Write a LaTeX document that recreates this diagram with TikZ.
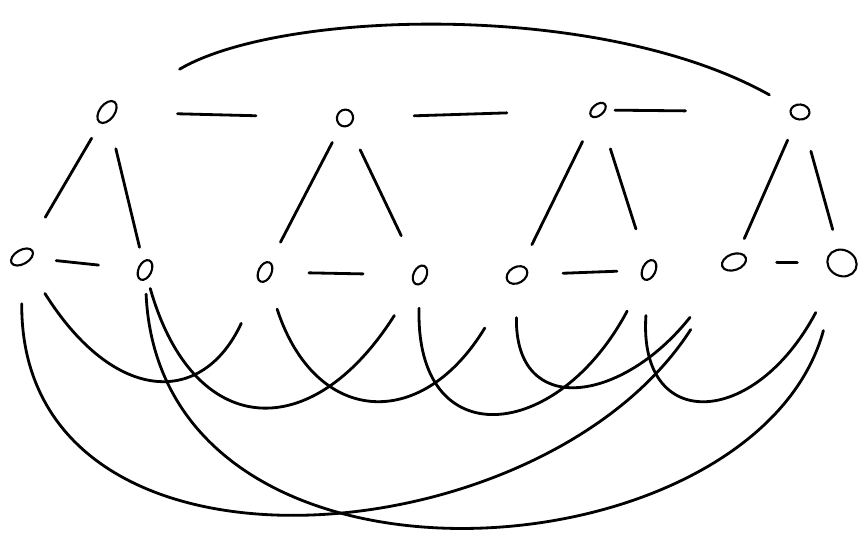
\documentclass[tikz,border=0pt]{standalone}
\usetikzlibrary{shapes.geometric}
\begin{document}
\begin{tikzpicture}[line cap=round,
    vtx/.style={draw,ellipse,line width=1.2pt,inner sep=0pt,minimum width=0.26cm,minimum height=0.4cm,rotate=-25},
    link/.style={line width=1.6pt}]
    \useasboundingbox (0,0) rectangle (17.34,-11);
    % top row
    \node[vtx,minimum width=0.3cm,minimum height=0.5cm,rotate=-12] (a) at (2.14,-2.24){};
    \node[vtx,minimum width=0.32cm,minimum height=0.34cm] (b) at (6.9,-2.36){};
    \node[vtx,minimum width=0.22cm,minimum height=0.36cm,rotate=-25] (c) at (11.96,-2.2){};
    \node[vtx,minimum width=0.38cm,minimum height=0.3cm,rotate=20] (d) at (16,-2.24){};
    % bottom row
    \node[vtx,minimum width=0.28cm,minimum height=0.48cm,rotate=-35] (a1) at (0.44,-5.14){};
    \node[vtx,minimum height=0.42cm] (a2) at (2.9,-5.4){};
    \node[vtx,minimum height=0.42cm] (b1) at (5.3,-5.44){};
    \node[vtx] (b2) at (8.4,-5.5){};
    \node[vtx,minimum width=0.32cm,minimum height=0.44cm,rotate=-35] (c1) at (10.34,-5.5){};
    \node[vtx,minimum height=0.42cm] (c2) at (12.98,-5.4){};
    \node[vtx,minimum width=0.32cm,minimum height=0.5cm,rotate=-45] (d1) at (14.68,-5.24){};
    \node[vtx,minimum width=0.6cm,minimum height=0.52cm,rotate=0] (d2) at (16.84,-5.26){};
    % top edges
    \draw[link,shorten <=1.22cm,shorten >=1.6cm] (a)--(b);
    \draw[link,shorten <=1.2cm,shorten >=1.66cm] (b)--(c);
    \draw[link,shorten <=0.18cm,shorten >=2.08cm] (c)--(d);
    \draw[link,shorten <=1.44cm,shorten >=0.5cm] (a) .. controls (5.6,-0.2) and (12,0) .. (d);
    % legs
    \draw[link,shorten <=0.34cm,shorten >=0.7cm] (a)--(a1);
    \draw[link,shorten <=0.56cm,shorten >=0.28cm] (a)--(a2);
    \draw[link,shorten <=0.36cm,shorten >=0.44cm] (b)--(b1);
    \draw[link,shorten <=0.52cm,shorten >=0.7cm] (b)--(b2);
    \draw[link,shorten <=0.52cm,shorten >=0.46cm] (c)--(c1);
    \draw[link,shorten <=0.68cm,shorten >=0.68cm] (c)--(c2);
    \draw[link,shorten <=0.44cm,shorten >=0.3cm] (d)--(d1);
    \draw[link,shorten <=0.64cm,shorten >=0.4cm] (d)--(d2);
    % bottom pairs
    \draw[link,shorten <=0.48cm,shorten >=0.78cm] (a1)--(a2);
    \draw[link,shorten <=0.72cm,shorten >=0.98cm] (b1)--(b2);
    \draw[link,shorten <=0.7cm,shorten >=0.48cm] (c1)--(c2);
    \draw[link,shorten <=0.6cm,shorten >=0.58cm] (d1)--(d2);
    % hanging curves
    \draw[link,shorten <=0.7cm,shorten >=0.9cm] (a1) .. controls (2.3,-8.1) and (4.06,-8.12) .. (b1);
    \draw[link,shorten <=0.2cm,shorten >=0.74cm] (a2) .. controls (3.86,-8.78) and (6.22,-8.94) .. (b2);
    \draw[link,shorten <=0.6cm,shorten >=1.02cm] (b1) .. controls (6.3,-8.5) and (8.42,-8.66) .. (c1);
    \draw[link,shorten <=0.46cm,shorten >=0.7cm] (b2) .. controls (8.3,-9.12) and (11.14,-8.86) .. (c2);
    \draw[link,shorten <=0.66cm,shorten >=1.18cm] (c1) .. controls (10.3,-8.38) and (12.44,-8.06) .. (d1);
    \draw[link,shorten <=0.7cm,shorten >=0.84cm] (c2) .. controls (12.76,-8.66) and (15.08,-8.58) .. (d2);
    \draw[link,shorten <=0.76cm,shorten >=1.38cm] (a1) .. controls (0.4,-12.06) and (10.86,-11.2) .. (d1);
    \draw[link,shorten <=0.28cm,shorten >=1.12cm] (a2) .. controls (3.22,-12.44) and (15.1,-11.58) .. (d2);
\end{tikzpicture}
\end{document}
